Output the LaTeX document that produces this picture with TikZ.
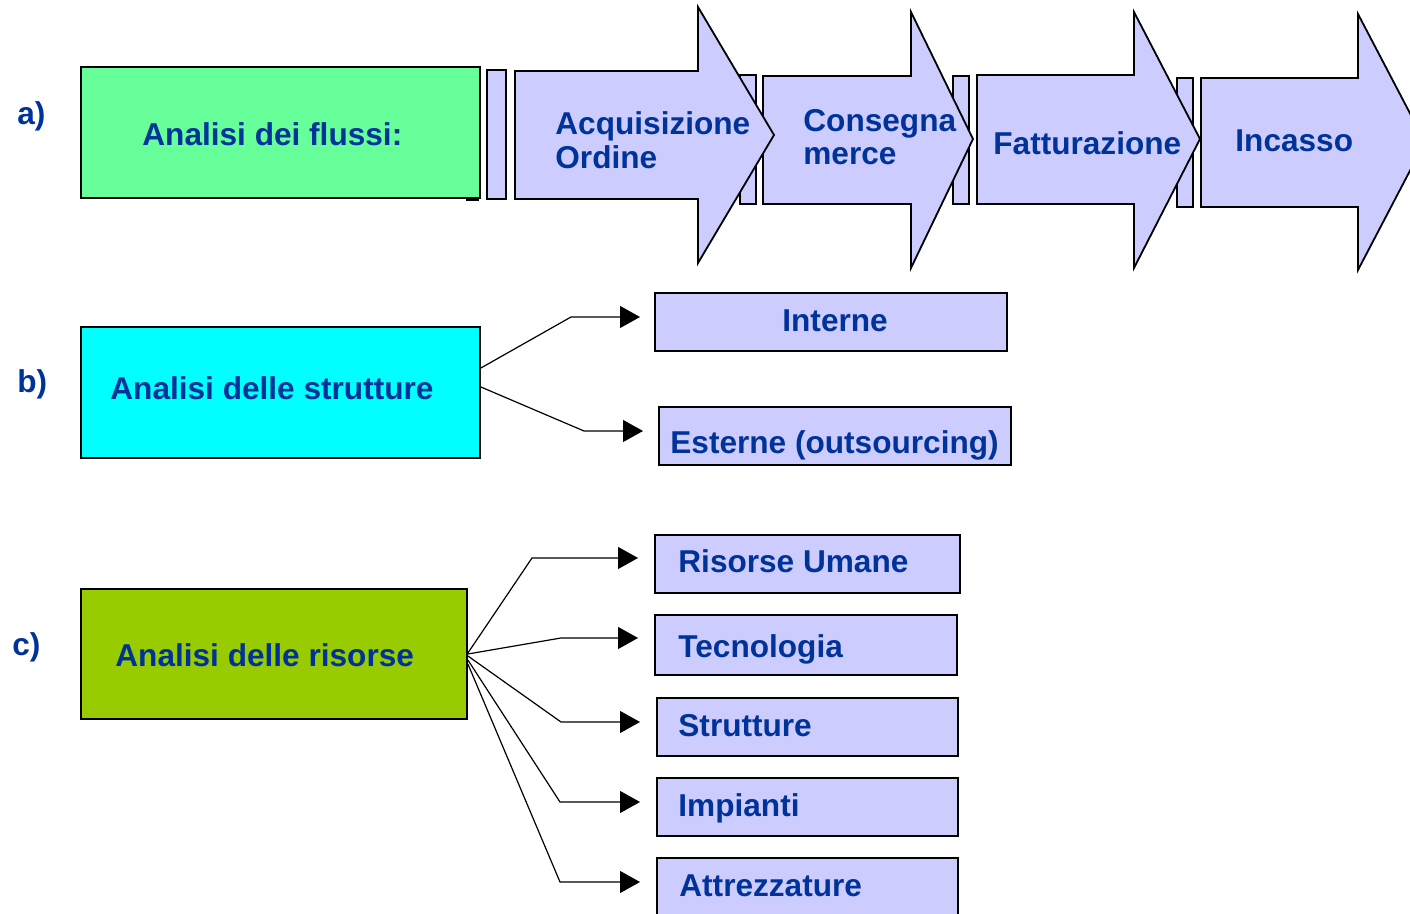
\documentclass[tikz,border=0pt]{standalone}
\usepackage{fontspec}
\setmainfont{Liberation Sans}
\usetikzlibrary{arrows.meta,fit}
\definecolor{flowgreen}{RGB}{102,255,153}
\definecolor{structcyan}{RGB}{0,255,255}
\definecolor{resolive}{RGB}{153,204,0}
\definecolor{lav}{RGB}{204,204,255}
\definecolor{ink}{RGB}{0,51,153}
\begin{document}
\begin{tikzpicture}[x=0.5pt,y=-0.5pt,
  txt/.style={text=ink, font=\bfseries\fontsize{15.8}{17}\selectfont, inner sep=0pt, anchor=base west},
  box/.style={draw=black, line width=0.9pt, inner sep=0pt},
  item/.style={box, fill=lav},
  chev/.style={draw=black, line width=0.9pt, fill=lav, line join=miter},
  conn/.style={line width=0.6pt, -{Triangle[length=10pt,width=11pt]}}]
\useasboundingbox (0,0) rectangle (1410,914);
\clip (0,0) rectangle (1410,914);

% ---------- a) flows ----------
\node[txt] (la) at (17,125) {a)};
\node[box, fill=flowgreen, fit={(81,67) (480,198)}] (flussi) {};
\draw[line width=1.5pt] (466,199.5) -- (479,199.5);
\node[txt] (tflussi) at (142,146) {Analisi dei flussi:};

% separator tabs
\draw[chev] (487,70) rectangle (506,199);
\draw[chev] (740,75) rectangle (756,204);
\draw[chev] (953,76) rectangle (969,204);
\draw[chev] (1177,78) rectangle (1193,207);

% process arrows, last one first so each head lies over the next body
\draw[chev] (1201,78) -- (1358,78) -- (1358,14) -- (1425,142) -- (1358,270) -- (1358,207) -- (1201,207) -- cycle;
\draw[chev] (977,75) -- (1134,75) -- (1134,12) -- (1200,139) -- (1134,268) -- (1134,204) -- (977,204) -- cycle;
\draw[chev] (763,76) -- (911,76) -- (911,12) -- (973,139) -- (911,268) -- (911,204) -- (763,204) -- cycle;
\draw[chev] (515,71) -- (698,71) -- (698,7) -- (774,135) -- (698,263) -- (698,199) -- (515,199) -- cycle;

\node[txt] (acq1) at (555,135) {Acquisizione};
\node[txt] (acq2) at (555,169) {Ordine};
\node[txt] (cons1) at (803,132) {Consegna};
\node[txt] (cons2) at (803,165) {merce};
\node[txt] (fatt) at (993,155) {Fatturazione};
\node[txt] (inc) at (1235,152) {Incasso};

% ---------- b) structures ----------
\node[txt] (lb) at (17,393) {b)};
\node[box, fill=structcyan, fit={(81,327) (480,458)}] (strut) {};
\node[txt] (tstrut) at (110,400) {Analisi delle strutture};

\node[item, fit={(655,293) (1007,351)}] (interne) {};
\node[txt] (tinterne) at (782,332) {Interne};
\node[item, fit={(659,407) (1011,465)}] (esterne) {};
\node[txt] (testerne) at (670,454) {Esterne (outsourcing)};

\coordinate (pInt) at (640,317);
\coordinate (pEst) at (643,431);
\draw[conn] (strut.east |- 0,368) -- (571,317) -- (pInt);
\draw[conn] (strut.east |- 0,387) -- (584,431) -- (pEst);

% ---------- c) resources ----------
\node[txt] (lc) at (12,656) {c)};
\node[box, fill=resolive, fit={(81,589) (467,719)}] (ris) {};
\node[txt] (tris) at (115,667) {Analisi delle risorse};

\node[item, fit={(655,535) (960,593)}] (umane) {};
\node[txt] (tumane) at (678,573) {Risorse Umane};
\node[item, fit={(655,615) (957,675)}] (tecno) {};
\node[txt] (ttecno) at (678,658) {Tecnologia};
\node[item, fit={(657,698) (958,756)}] (strutt) {};
\node[txt] (tstrutt) at (678,737) {Strutture};
\node[item, fit={(657,778) (958,836)}] (impianti) {};
\node[txt] (timpianti) at (678,817) {Impianti};
\node[item, fit={(657,858) (958,930)}] (attrez) {};
\node[txt] (tattrez) at (679,896) {Attrezzature};

\coordinate (pUm) at (638,558);
\coordinate (pTe) at (638,638);
\coordinate (pSt) at (640,722);
\coordinate (pIm) at (640,802);
\coordinate (pAt) at (640,882);
\draw[conn] (ris.east |- 0,653) -- (532,558) -- (pUm);
\draw[conn] (ris.east |- 0,654) -- (561,638) -- (pTe);
\draw[conn] (ris.east |- 0,656) -- (561,722) -- (pSt);
\draw[conn] (ris.east |- 0,660) -- (560,802) -- (pIm);
\draw[conn] (ris.east |- 0,664) -- (560,882) -- (pAt);
\end{tikzpicture}
\end{document}
